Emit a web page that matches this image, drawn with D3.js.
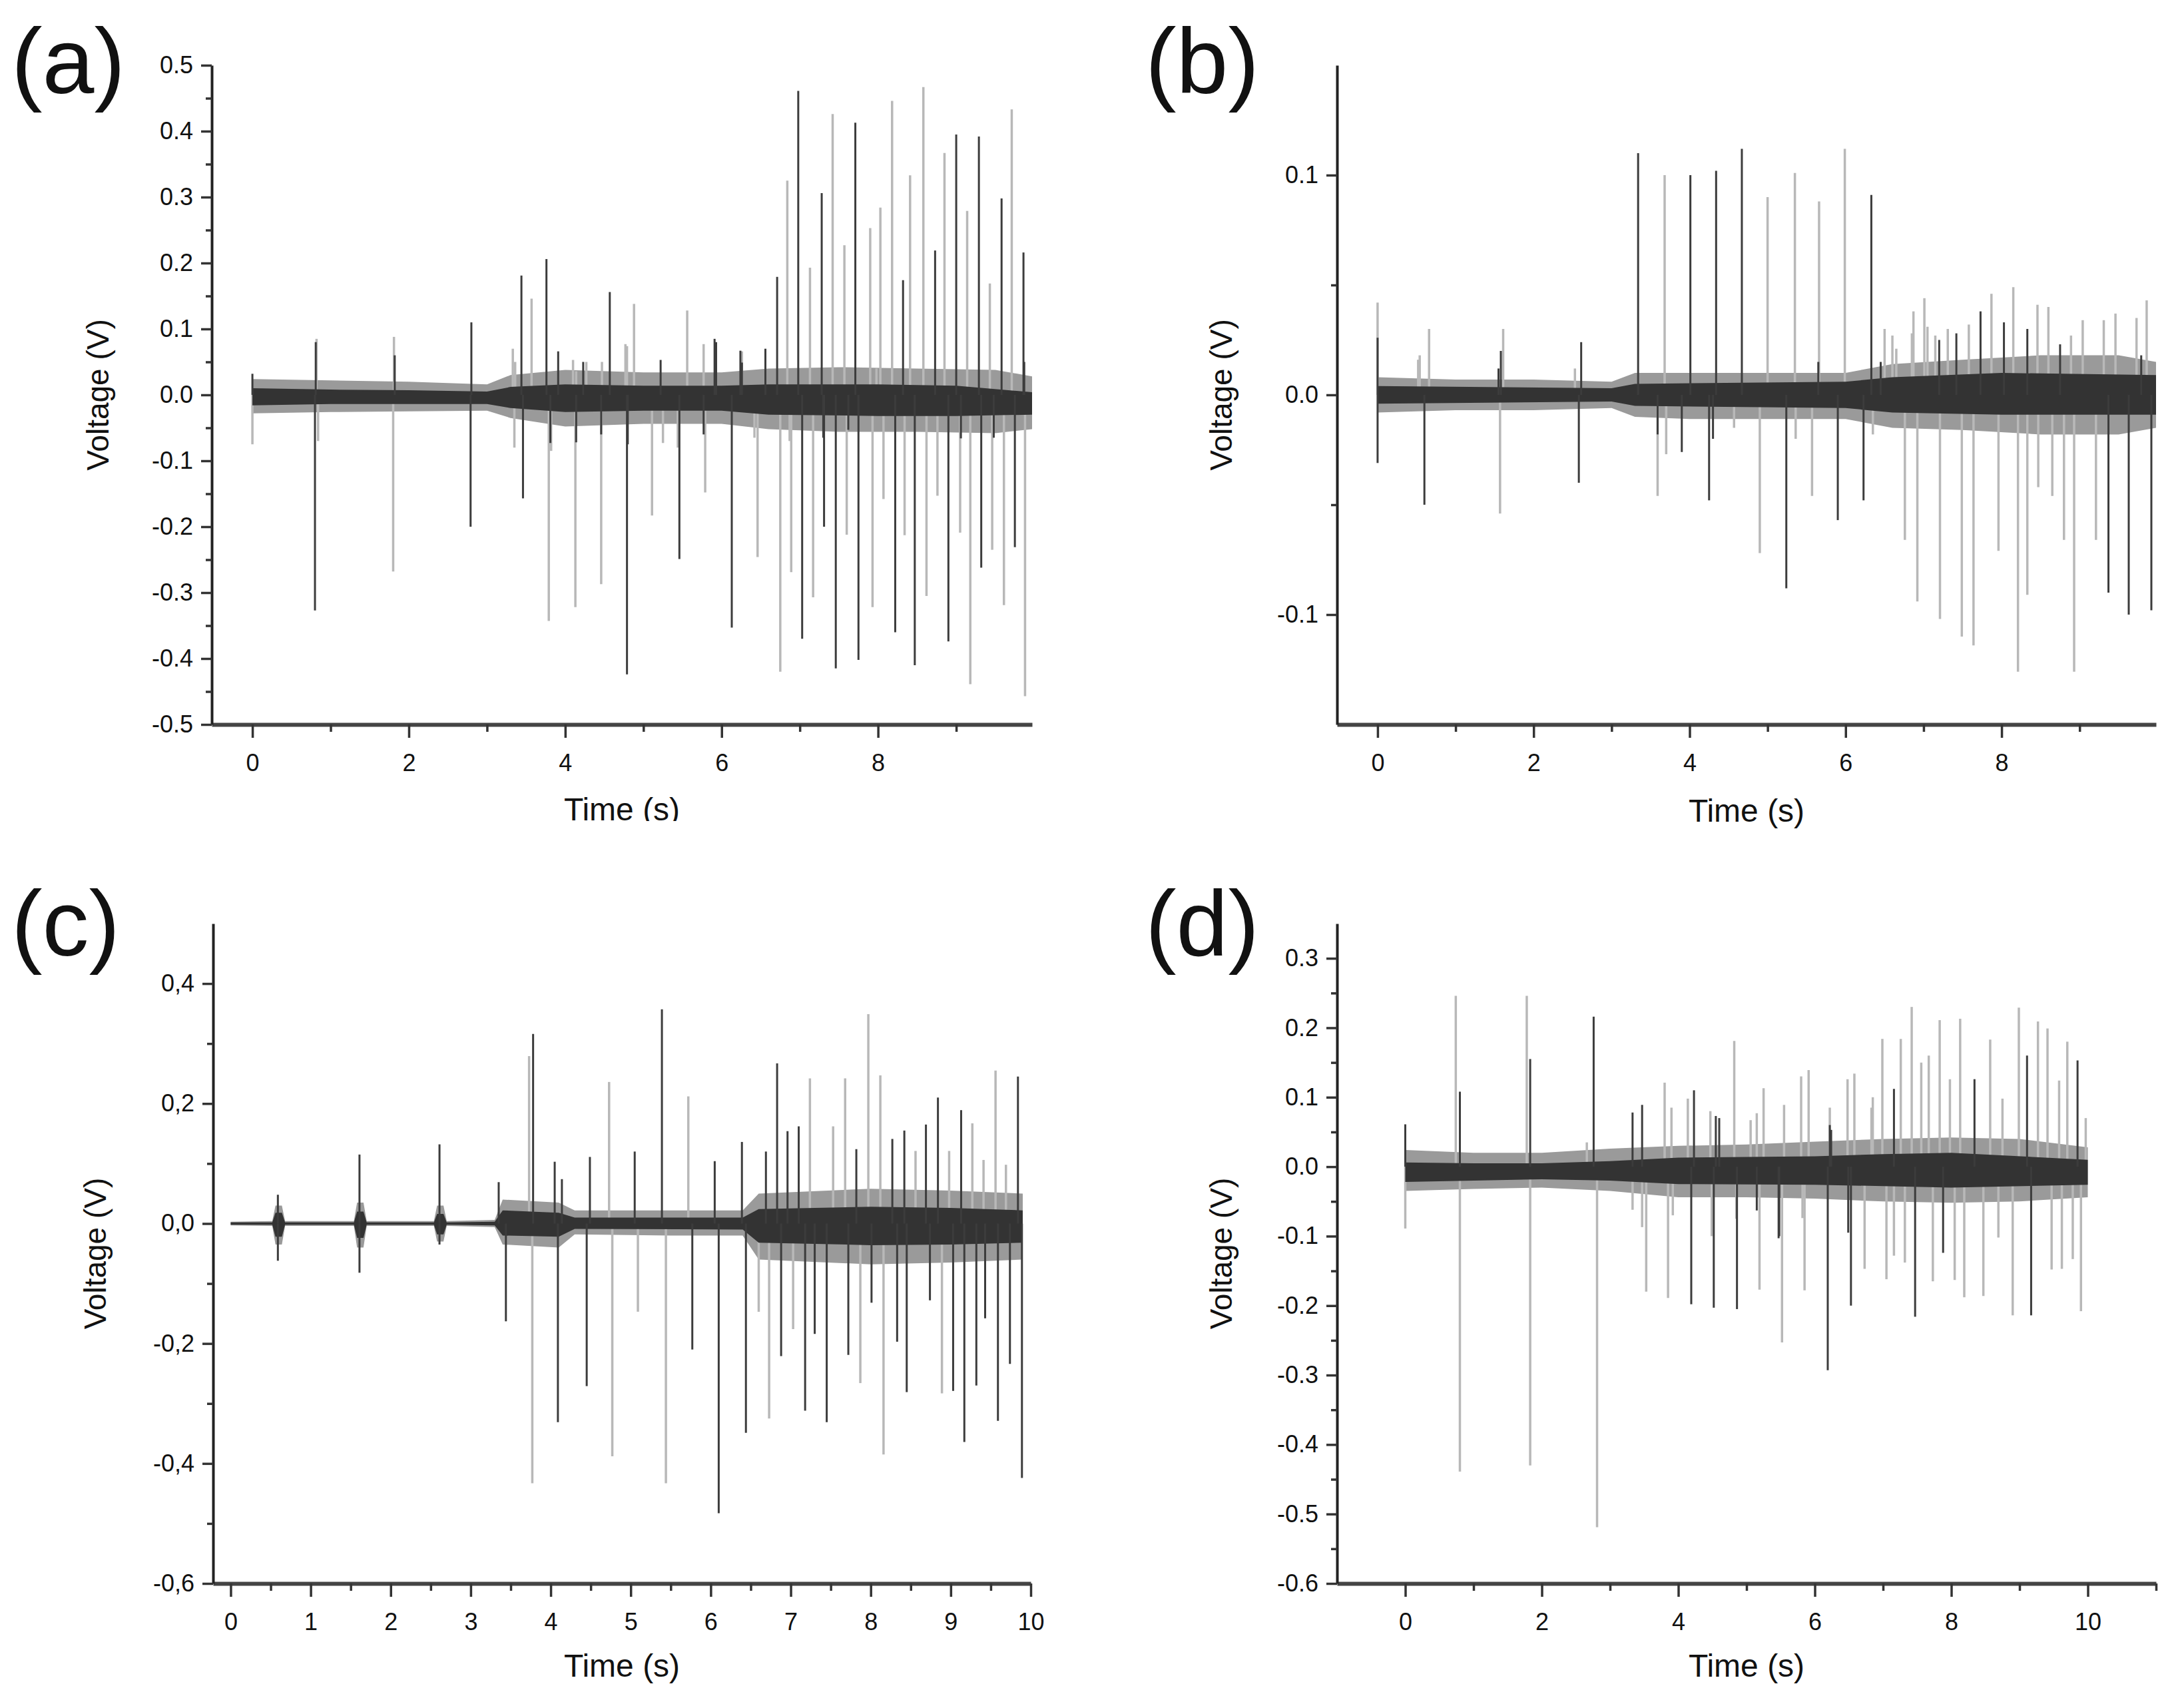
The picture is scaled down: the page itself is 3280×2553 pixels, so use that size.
<!DOCTYPE html>
<html>
<head>
<meta charset="utf-8">
<script src="https://cdn.jsdelivr.net/npm/d3@7"></script>
<style>
  body { margin: 0; background: #fff; }
  text { font-family: "Liberation Sans", Arial, sans-serif; fill: #111; }
</style>
</head>
<body>
<div id="chart"></div>
<script>
// ---- panel (a) ----
// spikes: [time (s), peak voltage (V)]
var aBlack = [[0.00,0.032],[0.80,-0.327],[0.81,0.08],[1.82,0.06],[2.79,-0.20],[2.80,0.11],[3.44,0.181],[3.46,-0.157],
  [3.76,0.206],[3.81,-0.073],[3.91,0.066],[4.14,-0.072],[4.23,0.05],[4.46,-0.06],[4.57,0.156],[4.79,-0.424],[4.80,-0.075],
  [5.22,0.053],[5.46,-0.249],[5.77,-0.06],[5.91,0.085],[5.93,0.08],[6.13,-0.353],[6.24,0.067],[6.26,0.049],
  [6.56,0.07],[6.71,0.179],[6.98,0.461],[7.03,-0.37],[7.28,0.306],[7.30,-0.065],[7.31,-0.20],[7.46,-0.415],[7.62,-0.053],
  [7.71,0.413],[7.75,-0.402],[8.22,-0.36],[8.32,0.174],[8.47,-0.41],[8.73,0.219],[8.90,-0.374],[9.00,0.395],[9.06,-0.066],
  [9.29,0.392],[9.32,-0.262],[9.48,-0.065],[9.58,0.298],[9.75,-0.231],[9.86,0.216],[9.87,0.05]]
var aGray = [[0.00,-0.075],[0.82,0.085],[0.84,-0.07],[1.80,-0.268],[1.81,0.088],[3.33,0.07],[3.35,-0.08],[3.36,0.05],
  [3.57,0.146],[3.79,-0.343],[3.82,-0.085],[4.10,0.053],[4.13,-0.322],[4.14,0.036],[4.27,0.05],[4.46,-0.287],[4.47,0.05],
  [4.77,0.077],[4.79,0.074],[4.88,0.138],[5.11,-0.183],[5.25,-0.073],[5.44,-0.08],[5.56,0.128],[5.77,0.077],[5.79,-0.148],
  [6.26,0.066],[6.42,-0.065],[6.46,-0.246],[6.75,-0.42],[6.84,0.325],[6.87,-0.07],[6.89,-0.269],[7.13,0.193],[7.17,-0.307],
  [7.42,0.426],[7.57,0.227],[7.60,-0.212],[7.90,0.253],[7.93,-0.322],[7.98,0.04],[8.03,0.284],[8.07,-0.158],[8.18,0.446],
  [8.34,-0.213],[8.41,0.333],[8.58,0.467],[8.62,-0.305],[8.76,-0.153],[8.85,0.367],[9.05,-0.209],[9.14,0.279],[9.18,-0.439],
  [9.43,0.169],[9.46,-0.235],[9.61,-0.319],[9.71,0.433],[9.88,-0.457]]
// noise envelope: [time, low, high]
var aGrayBand = [[0,-0.028,0.024],[1,-0.026,0.022],[2,-0.025,0.02],[3,-0.024,0.016],[3.3,-0.035,0.03],[4,-0.048,0.038],
  [5,-0.044,0.034],[6,-0.044,0.034],[6.6,-0.052,0.04],[7.5,-0.056,0.042],[8.5,-0.056,0.04],[9.5,-0.058,0.038],[9.97,-0.052,0.028]]
var aBlackBand = [[0,-0.016,0.01],[1,-0.014,0.008],[2,-0.014,0.007],[3,-0.014,0.005],[3.3,-0.02,0.012],[4,-0.026,0.016],
  [5,-0.024,0.014],[6,-0.024,0.014],[6.6,-0.03,0.016],[8,-0.032,0.016],[9,-0.032,0.014],[9.97,-0.03,0.004]]
var aXTicks = [0,2,4,6,8], aXMinor = [1,3,5,7,9]
var aYTicks = [-0.5,-0.4,-0.3,-0.2,-0.1,0,0.1,0.2,0.3,0.4,0.5]
var aYMinor = [-0.45,-0.35,-0.25,-0.15,-0.05,0.05,0.15,0.25,0.35,0.45]

// ---- panel (b) ----
var bBlack = [[0.00,0.026],[0.00,-0.031],[0.60,-0.050],[1.55,0.012],[1.58,0.020],[2.58,-0.040],[2.61,0.024],[3.34,0.110],
  [3.59,-0.018],[3.90,-0.026],[4.01,0.100],[4.25,-0.048],[4.30,-0.02],[4.34,0.102],[4.67,0.112],[5.24,-0.088],[5.65,0.015],
  [5.90,-0.057],[6.23,-0.048],[6.33,0.091],[6.45,0.015],[7.20,0.025],[7.42,0.028],[7.73,0.038],[8.03,0.033],[8.33,0.030],
  [8.75,0.023],[9.37,-0.090],[9.63,-0.100],[9.79,0.018],[9.92,-0.098]]
var bGray = [[0.00,0.042],[0.52,0.016],[0.54,0.018],[0.66,0.030],[1.57,-0.054],[1.61,0.030],[2.53,0.012],[3.59,-0.046],
  [3.68,0.100],[3.70,-0.027],[4.57,-0.015],[4.90,-0.072],[5.00,0.090],[5.35,0.101],[5.36,-0.02],[5.57,-0.046],[5.66,0.088],
  [5.99,0.112],[6.35,-0.018],[6.50,0.030],[6.60,0.027],[6.65,0.021],[6.76,-0.066],[6.85,0.028],[6.87,0.038],[6.92,-0.094],
  [7.01,0.044],[7.05,0.031],[7.15,0.027],[7.21,-0.102],[7.31,0.030],[7.49,-0.110],[7.58,0.032],[7.64,-0.114],[7.87,0.046],
  [7.96,-0.071],[8.15,0.049],[8.21,-0.126],[8.33,-0.091],[8.46,0.041],[8.47,-0.042],[8.60,0.040],[8.65,-0.046],[8.80,-0.066],
  [8.89,0.027],[8.93,-0.126],[9.04,0.034],[9.21,-0.066],[9.31,0.034],[9.46,0.037],[9.73,0.035],[9.86,0.043]]
var bGrayBand = [[0,-0.008,0.008],[1,-0.007,0.007],[2,-0.007,0.007],[3,-0.006,0.006],[3.3,-0.01,0.01],[4,-0.011,0.01],
  [5,-0.011,0.01],[6,-0.011,0.01],[6.6,-0.015,0.014],[7.5,-0.016,0.016],[8.5,-0.018,0.018],[9.5,-0.018,0.018],[9.98,-0.015,0.015]]
var bBlackBand = [[0,-0.004,0.004],[3,-0.003,0.003],[3.3,-0.005,0.005],[6,-0.006,0.006],[6.6,-0.008,0.008],[8,-0.009,0.01],
  [9.98,-0.009,0.009]]
var bXTicks = [0,2,4,6,8], bXMinor = [1,3,5,7,9]
var bYTicks = [-0.1,0,0.1], bYMinor = [-0.05,0.05]

// ---- panel (c) ----
var cBlack = [[0.59,0.048],[0.59,-0.062],[1.61,0.115],[1.61,-0.082],[2.61,0.132],[2.61,-0.035],[3.35,0.069],[3.44,-0.163],
  [3.78,0.316],[4.05,0.103],[4.09,-0.331],[4.14,0.074],[4.45,-0.271],[4.49,0.111],[5.05,0.12],[5.39,0.357],[5.77,-0.21],
  [6.05,0.104],[6.10,-0.483],[6.39,0.136],[6.44,-0.349],[6.69,0.12],[6.83,0.267],[6.88,-0.221],[6.96,0.154],[7.10,0.162],
  [7.18,-0.312],[7.30,-0.184],[7.45,-0.331],[7.72,-0.219],[7.82,0.124],[8.01,-0.132],[8.27,0.141],[8.33,-0.197],[8.42,0.155],
  [8.45,-0.281],[8.69,0.165],[8.74,-0.128],[8.84,0.210],[9.03,-0.279],[9.13,0.189],[9.17,-0.364],[9.32,-0.270],[9.43,-0.158],
  [9.59,-0.329],[9.74,-0.234],[9.84,0.245],[9.89,-0.424]]
var cGray = [[3.73,0.279],[3.77,-0.433],[4.73,0.236],[4.77,-0.388],[5.09,-0.147],[5.44,-0.433],[5.72,0.212],[6.60,-0.147],
  [6.73,-0.325],[7.03,-0.176],[7.24,0.242],[7.53,0.162],[7.68,0.242],[7.87,-0.266],[7.97,0.349],[8.12,0.247],[8.16,-0.385],
  [8.56,0.121],[8.89,-0.283],[8.98,0.121],[9.27,0.167],[9.41,0.106],[9.56,0.255],[9.69,0.098]]
var cGrayBand = [[0,-0.003,0.003],[0.52,-0.004,0.004],[0.56,-0.035,0.03],[0.64,-0.035,0.03],[0.68,-0.004,0.004],
  [1.54,-0.004,0.004],[1.58,-0.04,0.035],[1.66,-0.04,0.035],[1.7,-0.004,0.004],[2.54,-0.004,0.004],[2.58,-0.03,0.03],
  [2.66,-0.03,0.03],[2.7,-0.004,0.004],[3.3,-0.006,0.006],[3.4,-0.035,0.04],[4.1,-0.04,0.035],[4.3,-0.018,0.022],
  [5.5,-0.02,0.022],[6.4,-0.02,0.022],[6.6,-0.06,0.05],[8,-0.068,0.058],[9,-0.065,0.055],[9.9,-0.06,0.05]]
var cBlackBand = [[0,-0.002,0.002],[0.52,-0.002,0.002],[0.56,-0.022,0.018],[0.64,-0.022,0.018],[0.68,-0.002,0.002],
  [1.54,-0.002,0.002],[1.58,-0.024,0.02],[1.66,-0.024,0.02],[1.7,-0.002,0.002],[2.54,-0.002,0.002],[2.58,-0.018,0.016],
  [2.66,-0.018,0.016],[2.7,-0.002,0.002],[3.3,-0.003,0.003],[3.4,-0.02,0.022],[4.1,-0.022,0.018],[4.3,-0.009,0.01],
  [6.4,-0.01,0.01],[6.6,-0.032,0.024],[8,-0.036,0.028],[9,-0.035,0.026],[9.9,-0.032,0.022]]
var cXTicks = [0,1,2,3,4,5,6,7,8,9,10]
var cXMinor = [0.5,1.5,2.5,3.5,4.5,5.5,6.5,7.5,8.5,9.5]
var cYTicks = [-0.6,-0.4,-0.2,0,0.2,0.4], cYMinor = [-0.5,-0.3,-0.1,0.1,0.3]

// ---- panel (d) ----
var dBlack = [[0.00,0.061],[0.80,0.108],[1.83,0.155],[2.76,0.216],[3.33,0.078],[3.47,0.089],[4.19,-0.198],[4.23,0.11],
  [4.52,-0.203],[4.55,0.073],[4.60,0.07],[4.86,-0.205],[5.15,-0.063],[5.47,-0.103],[5.48,-0.1],[6.19,-0.293],[6.22,0.06],
  [6.24,0.053],[6.49,-0.095],[6.53,-0.2],[7.16,0.112],[7.47,-0.216],[7.88,-0.124],[8.34,0.126],[9.11,0.16],[9.17,-0.214],
  [9.85,0.153]]
var dGray = [[0.00,-0.089],[0.74,0.246],[0.80,-0.439],[1.78,0.246],[1.83,-0.43],[2.66,0.035],[2.81,-0.519],[3.33,-0.062],
  [3.47,-0.087],[3.53,-0.18],[3.80,0.121],[3.85,-0.189],[3.90,0.085],[3.92,-0.07],[4.14,0.098],[4.47,0.08],[4.49,-0.1],
  [4.82,0.181],[4.85,-0.075],[5.06,0.067],[5.15,0.077],[5.19,-0.177],[5.25,0.113],[5.52,-0.253],[5.55,0.089],[5.80,0.13],
  [5.82,-0.074],[5.85,-0.178],[5.91,0.139],[6.22,0.085],[6.48,0.126],[6.58,0.134],[6.73,-0.147],[6.83,0.085],[6.85,0.10],
  [6.99,0.184],[7.05,-0.162],[7.16,-0.128],[7.26,0.184],[7.32,-0.138],[7.42,0.23],[7.56,0.15],[7.67,0.16],[7.73,-0.165],
  [7.83,0.211],[7.98,0.126],[8.05,-0.163],[8.13,0.213],[8.19,-0.188],[8.47,-0.186],[8.57,0.183],[8.69,-0.102],[8.75,0.098],
  [8.90,-0.214],[8.99,0.229],[9.27,0.209],[9.41,0.199],[9.47,-0.148],[9.58,0.124],[9.62,-0.147],[9.70,0.18],[9.78,-0.133],
  [9.90,-0.208],[9.97,0.07]]
var dGrayBand = [[0,-0.035,0.024],[1,-0.032,0.02],[2,-0.03,0.02],[3,-0.035,0.026],[4,-0.044,0.03],[5,-0.044,0.032],
  [6,-0.046,0.036],[7,-0.05,0.04],[8,-0.052,0.042],[9,-0.05,0.04],[10,-0.044,0.028]]
var dBlackBand = [[0,-0.022,0.006],[1,-0.02,0.005],[2,-0.018,0.005],[3,-0.02,0.008],[4,-0.025,0.013],[6,-0.026,0.015],
  [7,-0.028,0.018],[8,-0.03,0.02],[10,-0.026,0.01]]
var dXTicks = [0,2,4,6,8,10], dXMinor = [1,3,5,7,9,11]
var dYTicks = [-0.6,-0.5,-0.4,-0.3,-0.2,-0.1,0,0.1,0.2,0.3]
var dYMinor = [-0.55,-0.45,-0.35,-0.25,-0.15,-0.05,0.05,0.15,0.25]

var width = 3280
    height = 2553

var svg = d3.select("#chart")
            .append("svg")
            .attr("width", width)
            .attr("height", height)

svg.append("rect").attr("width", width).attr("height", height).attr("fill", "#fff")
var defs = svg.append("defs")

var dot = function(d) { return d.toFixed(1) }
var comma = function(d) { return d.toFixed(1).replace(".", ",") }

var panels = [
  { name: "a", left: 318, right: 1550, top: 98, bottom: 1088, xDomain: [-0.52, 9.97], yDomain: [-0.5, 0.5],
    black: aBlack, gray: aGray, grayBand: aGrayBand, blackBand: aBlackBand,
    xTicks: aXTicks, xMinor: aXMinor, yTicks: aYTicks, yMinor: aYMinor, fmt: dot,
    labelX: 17, labelY: 140, yTitleX: 146, xTitleY: 1232, clipTitle: 1233 },
  { name: "b", left: 2008, right: 3238, top: 98, bottom: 1088, xDomain: [-0.52, 9.98], yDomain: [-0.15, 0.15],
    black: bBlack, gray: bGray, grayBand: bGrayBand, blackBand: bBlackBand,
    xTicks: bXTicks, xMinor: bXMinor, yTicks: bYTicks, yMinor: bYMinor, fmt: dot,
    labelX: 1720, labelY: 140, yTitleX: 1833, xTitleY: 1234 },
  { name: "c", left: 320, right: 1548, top: 1387, bottom: 2378, xDomain: [-0.22, 10], yDomain: [-0.6, 0.5],
    black: cBlack, gray: cGray, grayBand: cGrayBand, blackBand: cBlackBand,
    xTicks: cXTicks, xMinor: cXMinor, yTicks: cYTicks, yMinor: cYMinor, fmt: comma,
    labelX: 17, labelY: 1435, yTitleX: 142, xTitleY: 2518 },
  { name: "d", left: 2008, right: 3238, top: 1387, bottom: 2378, xDomain: [-1, 11], yDomain: [-0.6, 0.35],
    black: dBlack, gray: dGray, grayBand: dGrayBand, blackBand: dBlackBand,
    xTicks: dXTicks, xMinor: dXMinor, yTicks: dYTicks, yMinor: dYMinor, fmt: dot,
    labelX: 1720, labelY: 1435, yTitleX: 1833, xTitleY: 2518 }
]

function drawPanel(p) {
  var x = d3.scaleLinear().domain(p.xDomain).range([p.left, p.right])
  var y = d3.scaleLinear().domain(p.yDomain).range([p.bottom, p.top])

  defs.append("clipPath").attr("id", "plot-" + p.name)
      .append("rect")
      .attr("x", p.left).attr("y", p.top)
      .attr("width", p.right - p.left).attr("height", p.bottom - p.top)

  var plot = svg.append("g").attr("clip-path", "url(#plot-" + p.name + ")")

  var area = d3.area()
               .x(function(d) { return x(d[0]) })
               .y0(function(d) { return y(d[1]) })
               .y1(function(d) { return y(d[2]) })

  // gray channel: envelope + spikes
  plot.append("path").datum(p.grayBand).attr("d", area).attr("fill", "#9a9a9a")

  plot.selectAll(".gray")
      .data(p.gray)
      .enter().append("line")
      .attr("x1", function(d) { return x(d[0]) })
      .attr("x2", function(d) { return x(d[0]) })
      .attr("y1", y(0))
      .attr("y2", function(d) { return y(d[1]) })
      .attr("stroke", "#b8b8b8")
      .attr("stroke-width", 3.5)

  // black channel
  plot.append("path").datum(p.blackBand).attr("d", area).attr("fill", "#333")

  plot.selectAll(".black")
      .data(p.black)
      .enter().append("line")
      .attr("x1", function(d) { return x(d[0]) })
      .attr("x2", function(d) { return x(d[0]) })
      .attr("y1", y(0))
      .attr("y2", function(d) { return y(d[1]) })
      .attr("stroke", "#3c3c3c")
      .attr("stroke-width", 3)

  // axes
  var xAxis = svg.append("g").attr("transform", "translate(0," + p.bottom + ")")
                 .call(d3.axisBottom(x).tickValues(p.xTicks).tickSize(20).tickSizeOuter(0)
                       .tickPadding(24).tickFormat(function(d) { return d }))
  var xMinor = svg.append("g").attr("transform", "translate(0," + p.bottom + ")")
                  .call(d3.axisBottom(x).tickValues(p.xMinor).tickSize(11).tickSizeOuter(0).tickFormat(""))
  var yAxis = svg.append("g").attr("transform", "translate(" + p.left + ",0)")
                 .call(d3.axisLeft(y).tickValues(p.yTicks).tickSize(16).tickSizeOuter(0)
                       .tickPadding(12).tickFormat(p.fmt))
  var yMinor = svg.append("g").attr("transform", "translate(" + p.left + ",0)")
                  .call(d3.axisLeft(y).tickValues(p.yMinor).tickSize(9).tickSizeOuter(0).tickFormat(""))

  ;[xAxis, xMinor, yAxis, yMinor].forEach(function(ax) {
    ax.selectAll(".tick line").attr("stroke", "#333").attr("stroke-width", 3.5)
    ax.selectAll(".tick text").attr("font-size", 36).attr("fill", "#111")
       .attr("font-family", "'Liberation Sans', Arial, sans-serif")
  })
  xMinor.select(".domain").remove()
  yMinor.select(".domain").remove()
  xAxis.select(".domain").attr("stroke", "#444").attr("stroke-width", 6)
  yAxis.select(".domain").attr("stroke", "#222").attr("stroke-width", 4)

  // titles
  var xTitle = svg.append("text")
     .attr("x", (p.left + p.right) / 2)
     .attr("y", p.xTitleY)
     .attr("text-anchor", "middle")
     .attr("font-size", 48)
     .text("Time (s)")
  if (p.clipTitle) {
    defs.append("clipPath").attr("id", "title-" + p.name)
        .append("rect").attr("x", 0).attr("y", 0).attr("width", width).attr("height", p.clipTitle)
    xTitle.attr("clip-path", "url(#title-" + p.name + ")")
  }

  svg.append("text")
     .attr("transform", "translate(" + p.yTitleX + "," + (p.top + p.bottom) / 2 + ") rotate(-90)")
     .attr("text-anchor", "middle")
     .attr("dy", "0.36em")
     .attr("font-size", 46)
     .text("Voltage (V)")

  svg.append("text")
     .attr("x", p.labelX)
     .attr("y", p.labelY)
     .attr("font-size", 140)
     .text("(" + p.name + ")")
}

panels.forEach(drawPanel)
</script>
</body>
</html>
